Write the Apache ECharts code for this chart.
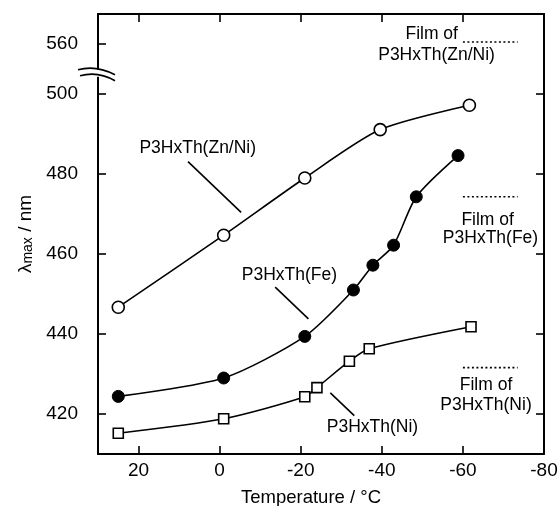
<!DOCTYPE html>
<html>
<head>
<meta charset="utf-8">
<script src="https://cdn.jsdelivr.net/npm/echarts@6/dist/echarts.min.js"></script>
<style>
html,body{margin:0;padding:0;background:#fff;}
#c{width:558px;height:506px;}
</style>
</head>
<body>
<div id="c"></div>
<script>
// ---- data ----
const xTicks = [20, 0, -20, -40, -60, -80];
const yTicks = [420, 440, 460, 480, 500, 560];

const tempZnNi   = [25, -1, -21, -39.6, -61.6];
const lambdaZnNi = [446.7, 464.7, 479.0, 491.1, 497.2];

const tempFe   = [25, -1, -21, -33, -37.8, -42.9, -48.5, -58.8];
const lambdaFe = [424.4, 429.0, 439.4, 451.0, 457.2, 462.2, 474.3, 484.6];

const tempNi   = [25, -1, -21, -24, -32, -36.9, -62];
const lambdaNi = [415.2, 418.8, 424.3, 426.6, 433.2, 436.3, 441.8];

const filmTemps  = [-60, -73.5];
const filmZnNi = 560.5, filmFe = 474.3, filmNi = 431.6;

// broken y axis: values above the break are shifted down
const BREAK_LOW = 505, BREAK_SHIFT = 47.5;
function ya(v){ return v > BREAK_LOW ? v - BREAK_SHIFT : v; }
function yLabel(p){ const t = yTicks.find(v => Math.abs(ya(v) - p) < 1e-6); return t === undefined ? '' : String(t); }

function pairs(xs, ys){ return xs.map((x,i)=>[x, ya(ys[i])]); }

const FONT = '"Liberation Sans", Arial, Helvetica, sans-serif';
const chart = echarts.init(document.getElementById('c'), null, {renderer:'canvas'});

const axisLine = {show:true, onZero:false, lineStyle:{color:'#000', width:2}};
const tickStyle = {lineStyle:{color:'#000', width:1.6}};

const option = {
  animation:false,
  backgroundColor:'#fff',
  grid:{left:98, right:14, top:14, bottom:52, containLabel:false, outerBoundsMode:'none'},
  xAxis:[{
    type:'value', min:-80, max:30, inverse:true, position:'bottom',
    axisLine, splitLine:{show:false},
    axisTick:{show:true, inside:true, length:8, customValues:xTicks, ...tickStyle},
    axisLabel:{show:true, customValues:xTicks, margin:7, color:'#000', fontSize:19, fontFamily:FONT},
    name:'Temperature / °C', nameLocation:'middle', nameGap:34,
    nameTextStyle:{color:'#000', fontSize:18.5, fontFamily:FONT, padding:[0,20,0,0]}
  },{
    type:'value', min:-80, max:30, inverse:true, position:'top',
    axisLine, splitLine:{show:false},
    axisTick:{show:true, inside:true, length:8, customValues:xTicks.slice(0,5), ...tickStyle},
    axisLabel:{show:false}
  }],
  yAxis:[{
    type:'value', min:410, max:520, position:'left',
    axisLine, splitLine:{show:false},
    axisTick:{show:true, inside:true, length:8, customValues:yTicks.map(ya), ...tickStyle},
    axisLabel:{show:true, customValues:yTicks.map(ya), margin:20, color:'#000', fontSize:19, fontFamily:FONT,
      formatter:(v)=>yLabel(v)},
    name:'{l|λ}{s|max}{l| / nm}', nameLocation:'middle', nameGap:62, nameRotate:90,
    nameTextStyle:{color:'#000', fontFamily:FONT,
      rich:{
        l:{fontSize:19, fontFamily:FONT, color:'#000', lineHeight:26, verticalAlign:'bottom'},
        s:{fontSize:14, fontFamily:FONT, color:'#000', lineHeight:26, verticalAlign:'bottom', padding:[6,0,0,0]}
      }}
  },{
    type:'value', min:410, max:520, position:'right',
    axisLine, splitLine:{show:false},
    axisTick:{show:true, inside:true, length:8, customValues:yTicks.slice(0,5).map(ya), ...tickStyle},
    axisLabel:{show:false}
  }],
  series:[
    {type:'line', name:'P3HxTh(Zn/Ni)', data:pairs(tempZnNi, lambdaZnNi), smooth:0.25,
     lineStyle:{color:'#000', width:1.6}, symbol:'circle', symbolSize:12,
     itemStyle:{color:'#fff', borderColor:'#000', borderWidth:1.6}, z:3},
    {type:'line', name:'P3HxTh(Fe)', data:pairs(tempFe, lambdaFe), smooth:0.25,
     lineStyle:{color:'#000', width:1.6}, symbol:'circle', symbolSize:12,
     itemStyle:{color:'#000', borderColor:'#000', borderWidth:1}, z:3},
    {type:'line', name:'P3HxTh(Ni)', data:pairs(tempNi, lambdaNi), smooth:0.25,
     lineStyle:{color:'#000', width:1.6}, symbol:'rect', symbolSize:10,
     itemStyle:{color:'#fff', borderColor:'#000', borderWidth:1.6}, z:3},
    {type:'line', name:'film Zn/Ni', data:filmTemps.map(t=>[t, ya(filmZnNi)]), symbol:'none',
     lineStyle:{color:'#000', width:1.6, type:[2,2.5]}},
    {type:'line', name:'film Fe', data:filmTemps.map(t=>[t, ya(filmFe)]), symbol:'none',
     lineStyle:{color:'#000', width:1.6, type:[2,2.5]}},
    {type:'line', name:'film Ni', data:filmTemps.map(t=>[t, ya(filmNi)]), symbol:'none',
     lineStyle:{color:'#000', width:1.6, type:[2,2.5]}}
  ]
};
chart.setOption(option);

// ---- annotations (anchored in data units of the drawn axis) ----
const P = (t, v) => chart.convertToPixel({xAxisIndex:0, yAxisIndex:0}, [t, v]);
const labels = [
  {t:5.4,   v:486.5, text:'P3HxTh(Zn/Ni)'},
  {t:-17.2, v:454.7, text:'P3HxTh(Fe)'},
  {t:-37.7, v:416.6, text:'P3HxTh(Ni)'},
  {t:-52.3, v:515.0, text:'Film of'},
  {t:-53.5, v:509.6, text:'P3HxTh(Zn/Ni)'},
  {t:-66.1, v:468.5, text:'Film of'},
  {t:-66.8, v:464.0, text:'P3HxTh(Fe)'},
  {t:-65.7, v:427.3, text:'Film of'},
  {t:-65.7, v:422.3, text:'P3HxTh(Ni)'}
];
const leaders = [
  [[7.8,483.1],[-5.3,470.4]],
  [[-13.7,451.7],[-21.9,443.8]],
  [[-27.3,425.3],[-33.2,419.6]]
];
const g = [];
labels.forEach(l=>{
  const p = P(l.t, l.v);
  g.push({type:'text', x:p[0], y:p[1], z:10,
    style:{text:l.text, fill:'#000', font:'17.5px ' + FONT, align:'center', verticalAlign:'middle'}});
});
leaders.forEach(s=>{
  const a = P(s[0][0], s[0][1]), b = P(s[1][0], s[1][1]);
  g.push({type:'line', z:10, shape:{x1:a[0], y1:a[1], x2:b[0], y2:b[1]}, style:{stroke:'#000', lineWidth:1.6}});
});
// axis break symbol
const bp = P(30, 505.3);
const bx = bp[0], by = bp[1];
g.push({type:'rect', z:20, shape:{x:bx-3, y:by-3, width:6, height:7}, style:{fill:'#fff'}});
g.push({type:'bezierCurve', z:21, shape:{x1:bx-20, y1:by-3, cpx1:bx-2, cpy1:by-8, x2:bx+17, y2:by+2}, style:{stroke:'#000', lineWidth:1.6, fill:null}});
g.push({type:'bezierCurve', z:21, shape:{x1:bx-18, y1:by+3, cpx1:bx, cpy1:by-2, x2:bx+17, y2:by+8}, style:{stroke:'#000', lineWidth:1.6, fill:null}});
chart.setOption({graphic:g});
</script>
</body>
</html>
